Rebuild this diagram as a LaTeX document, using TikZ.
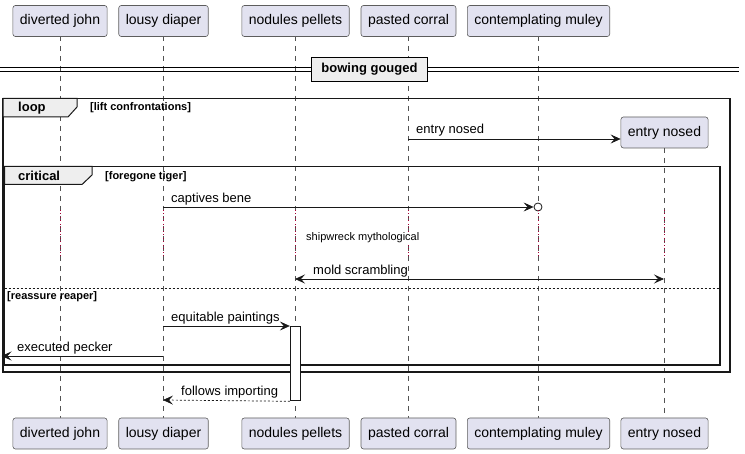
\documentclass[tikz,border=0pt]{standalone}
\usepackage{fontspec}
\setmainfont{Liberation Sans}
\usetikzlibrary{arrows.meta}
\definecolor{partfill}{HTML}{E2E2F0}
\definecolor{partdraw}{HTML}{181818}
\definecolor{tabfill}{HTML}{EEEEEE}
\definecolor{delayred}{HTML}{A80036}
\tikzset{
  x=1pt,y=-1pt,
  part/.style={draw=partdraw!70,fill=partfill,line width=0.6pt,rounded corners=2.5pt,minimum height=31pt,inner xsep=7pt,font=\fontsize{14}{16}\selectfont,anchor=center},
  lifeline/.style={draw=partdraw!75,line width=0.5pt,dash pattern=on 5pt off 5pt},
  delayline/.style={draw=delayred,line width=0.6pt,dash pattern=on 1pt off 2.5pt},
  msg/.style={draw=partdraw,line width=0.7pt},
  ahead/.style={-{Stealth[length=10pt,width=9pt,inset=4pt]}},
  bhead/.style={{Stealth[length=10pt,width=9pt,inset=4pt]}-{Stealth[length=10pt,width=9pt,inset=4pt]}},
  mlabel/.style={font=\fontsize{13}{15}\selectfont,anchor=base west,inner sep=0pt},
  framebox/.style={draw=partdraw,line width=1.5pt},
  tabtext/.style={font=\bfseries\fontsize{13}{15}\selectfont,anchor=base west,inner sep=0pt},
  condtext/.style={font=\bfseries\fontsize{11}{13}\selectfont,anchor=base west,inner sep=0pt},
}
\begin{document}
\begin{tikzpicture}
\useasboundingbox (0,0) rectangle (745,454);
% lifelines
\foreach \xx in {60,163,295,408,538}{\draw[lifeline] (\xx,36) -- (\xx,418);}
\draw[lifeline] (664,148) -- (664,418);
% participants top
\node[part] (djT) at (60,21) {diverted john};
\node[part] (ldT) at (163.5,21) {lousy diaper};
\node[part] (npT) at (295.5,21) {nodules pellets};
\node[part] (pcT) at (408.5,21) {pasted corral};
\node[part] (cmT) at (538.5,21) {contemplating muley};
% participants bottom
\node[part] (djB) at (60,433.5) {diverted john};
\node[part] (ldB) at (163.5,433.5) {lousy diaper};
\node[part] (npB) at (295.5,433.5) {nodules pellets};
\node[part] (pcB) at (408.5,433.5) {pasted corral};
\node[part] (cmB) at (538.5,433.5) {contemplating muley};
\node[part] (enB) at (664.5,433.5) {entry nosed};
% divider
\draw[line width=1pt] (0,68) -- (739,68);
\draw[line width=1pt] (0,71.5) -- (739,71.5);
\node[draw=black,line width=1.5pt,fill=tabfill,minimum width=116pt,minimum height=24pt,inner sep=0pt,font=\bfseries\fontsize{13}{15}\selectfont] (div) at (369.5,69.5) {bowing gouged};
% loop frame
\draw[framebox] (3,98.5) rectangle (730,372);
\draw[line width=1pt,fill=tabfill,draw=partdraw] (3,98.5) -- (77,98.5) -- (77,107) -- (68,117) -- (3,117) -- cycle;
\node[tabtext] (looplbl) at (18,112) {loop};
\node[condtext] (loopcond) at (90,111) {[lift confrontations]};
% entry nosed created
\node[part] (enT) at (664.5,132.5) {entry nosed};
\coordinate (pcA) at (408,139);
\draw[msg,ahead] (pcA) -- (pcA -| enT.west);
\node[mlabel] (l1) at (416,134) {entry nosed};
% critical frame
\draw[framebox] (4.5,166.5) rectangle (720,365);
\draw[line width=1pt,fill=tabfill,draw=partdraw] (4.5,166.5) -- (92,166.5) -- (92,175) -- (82,184.5) -- (4.5,184.5) -- cycle;
\node[tabtext] (critlbl) at (18,181) {critical};
\node[condtext] (critcond) at (105,180) {[foregone tiger]};
% captives bene
\coordinate (ldA) at (163,207);
\node[draw=partdraw,line width=0.8pt,circle,minimum size=8pt,inner sep=0pt,fill=white] (circ) at (538,207) {};
\draw[msg,ahead] (ldA) -- (circ.west);
\node[mlabel] (l2) at (171,202.5) {captives bene};
% delay
\foreach \xx in {60,163,295,408,538,664}{\draw[delayline] (\xx,210) -- (\xx,258);}
\node[font=\fontsize{11}{13}\selectfont,anchor=base west,inner sep=0pt,fill=white] (delay) at (306,240.5) {shipwreck mythological};
% mold scrambling
\coordinate (npA) at (295,279);
\coordinate (enA) at (664,279);
\draw[msg,bhead] (npA) -- (enA);
\node[mlabel] (l3) at (313,274.5) {mold scrambling};
% else separator
\draw[draw=partdraw,line width=0.8pt,dash pattern=on 2pt off 2pt] (4.5,288) -- (720,288);
\node[condtext] (elsecond) at (7,300) {[reassure reaper]};
% activation
\node[draw=partdraw,line width=0.8pt,fill=white,minimum width=10.5pt,minimum height=74.5pt,inner sep=0pt,anchor=north] (act) at (295.5,326) {};
% equitable paintings
\coordinate (ldB1) at (163,326);
\draw[msg,ahead] (ldB1) -- (act.north west);
\node[mlabel] (l4) at (171,321.5) {equitable paintings};
% executed pecker
\coordinate (ldC) at (163,356);
\coordinate (leftE) at (1.5,356);
\draw[msg,ahead] (ldC) -- (leftE);
\node[mlabel] (l5) at (17,351.5) {executed pecker};
% follows importing
\coordinate (ldD) at (163,400);
\draw[msg,ahead,dash pattern=on 2pt off 2pt] (act.south west) -- (ldD);
\node[mlabel] (l6) at (181,395.5) {follows importing};
\end{tikzpicture}
\end{document}
